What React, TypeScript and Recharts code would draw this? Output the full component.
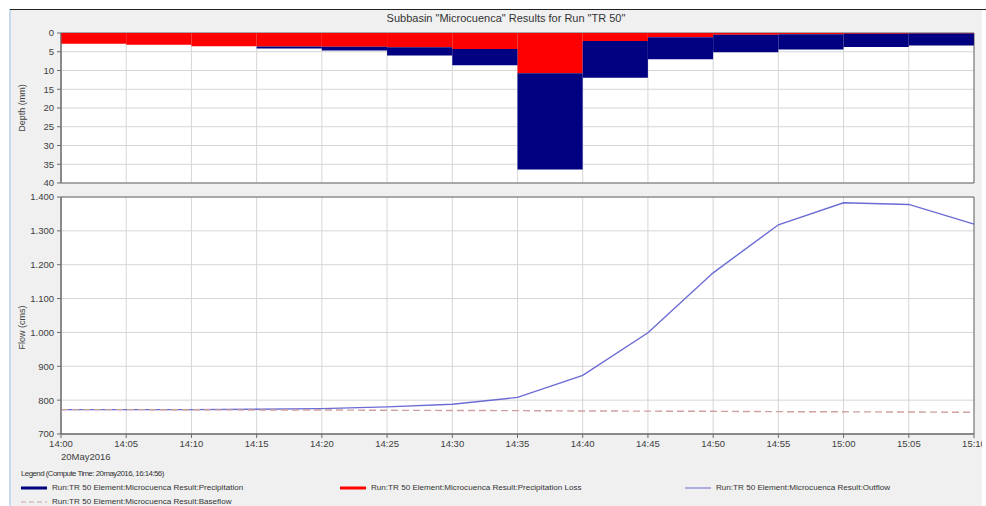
import {
  ComposedChart,
  LineChart,
  Bar,
  Line,
  XAxis,
  YAxis,
  CartesianGrid,
  ReferenceArea,
  Label,
} from "recharts";

// depth bars: one per 5-minute interval, labelled by interval end
const intervalEnds = [
  "14:05", "14:10", "14:15", "14:20", "14:25", "14:30", "14:35",
  "14:40", "14:45", "14:50", "14:55", "15:00", "15:05", "15:10",
];
const precipitation = [2.85, 3.1, 3.55, 4.1, 4.65, 6.0, 8.6, 36.4, 11.9, 7.0, 5.1, 4.4, 3.75, 3.3];
const precipLoss = [2.85, 3.1, 3.55, 3.6, 3.65, 3.8, 4.25, 10.75, 2.15, 1.1, 0.45, 0.3, 0.2, 0.15];

// flow series, one value per time step
const flowTimes = [
  "14:00", "14:05", "14:10", "14:15", "14:20", "14:25", "14:30", "14:35",
  "14:40", "14:45", "14:50", "14:55", "15:00", "15:05", "15:10",
];
const outflow = [772, 772, 772, 773, 775, 780, 788, 808, 873, 999, 1176, 1318, 1383, 1378, 1320];
const baseflow = [772, 772, 771.5, 771, 771, 770, 769.5, 769, 768, 767.5, 767, 766, 765.5, 765, 764];

const timeTicks = flowTimes;
const depthTicks = [0, 5, 10, 15, 20, 25, 30, 35, 40];
const flowTicks = [700, 800, 900, 1000, 1100, 1200, 1300, 1400];

const START = "14:00";
const STEP = 5;

function toMin(t: string) {
  const [h, m] = t.split(":").map(Number);
  const [h0, m0] = START.split(":").map(Number);
  return h * 60 + m - (h0 * 60 + m0);
}

function fromMin(v: number) {
  const [h0, m0] = START.split(":").map(Number);
  const total = h0 * 60 + m0 + v;
  const h = Math.floor(total / 60);
  const m = total % 60;
  return `${h}:${String(m).padStart(2, "0")}`;
}

function fmtFlow(v: number) {
  if (v < 1000) return String(v);
  return `${Math.floor(v / 1000)}.${String(v % 1000).padStart(3, "0")}`;
}

const depthData = intervalEnds.map((t, i) => ({
  mid: toMin(t) - STEP / 2,
  loss: precipLoss[i],
  excess: Math.max(0, precipitation[i] - precipLoss[i]),
}));

const flowData = flowTimes.map((t, i) => ({
  t: toMin(t),
  outflow: outflow[i],
  baseflow: baseflow[i],
}));

const minuteTicks = timeTicks.map(toMin);
const xMax = minuteTicks[minuteTicks.length - 1];

const W = 986;
const M_LEFT = 11;
const Y_W = 50;
const M_RIGHT = 12;
const plotW = W - M_LEFT - Y_W - M_RIGHT;
// a hair under the band so recharts doesn't shrink it to 90%
const barW = (plotW * STEP) / xMax - 0.05;

const FONT = "'Liberation Sans', Arial, sans-serif";
const TEXT = "#404040";
const GRID = "#d6d6d6";
const FRAME = "#6b6b6b";

const axisTitle = (text: string, shift: number) => (props: any) => {
  const vb = props.viewBox || {};
  const cx = (vb.x ?? M_LEFT) + 11;
  const cy = (vb.y ?? 0) + (vb.height ?? 0) / 2 + shift;
  return (
    <text
      x={cx}
      y={cy}
      transform={`rotate(-90 ${cx} ${cy})`}
      textAnchor="middle"
      dominantBaseline="central"
      fontSize={9}
      fill={TEXT}
      fontFamily={FONT}
    >
      {text}
    </text>
  );
};

function TimeTick(props: any) {
  const { x, y, payload } = props;
  return (
    <g>
      <text x={x} y={y} dy="0.71em" textAnchor="middle" fontSize={9.5} fill={TEXT} fontFamily={FONT}>
        {fromMin(payload.value)}
      </text>
      {payload.value === 0 && (
        <text x={x} y={y + 13} dy="0.71em" textAnchor="start" fontSize={9.5} fill={TEXT} fontFamily={FONT}>
          20May2016
        </text>
      )}
    </g>
  );
}

function Swatch({ color, width, dash }: { color: string; width: number; dash?: string }) {
  return (
    <svg width={26} height={6} style={{ position: "absolute", left: -31, top: 1 }}>
      <line x1={0} y1={3} x2={26} y2={3} stroke={color} strokeWidth={width} strokeDasharray={dash} />
    </svg>
  );
}

function LegendItem({ x, y, label, color, width, dash }: any) {
  return (
    <div style={{ position: "absolute", left: x, top: y, fontSize: 8.1, color: "#333", whiteSpace: "nowrap", lineHeight: "8px" }}>
      <Swatch color={color} width={width} dash={dash} />
      {label}
    </div>
  );
}

export default function App() {
  const tickStyle = { fontSize: 9.5, fill: TEXT, fontFamily: FONT };
  return (
    <div style={{ position: "absolute", left: 0, top: 0, width: W, height: 506, background: "#fff", fontFamily: FONT }}>
      <div style={{ position: "absolute", left: 9, top: 9, width: 2, height: 497, background: "#c9dbee" }} />
      <div style={{ position: "absolute", left: 10, top: 9, width: 976, height: 1, background: "#222" }} />
      <div style={{ position: "absolute", left: 11, top: 10, width: 971, height: 496, background: "#f0f0f0", overflow: "hidden" }}>
        <div style={{ position: "absolute", left: -11, top: -10, width: W, height: 506 }}>
          <div style={{ position: "absolute", left: 306, top: 12, width: 400, textAlign: "center", fontSize: 11, color: "#333" }}>
            Subbasin "Microcuenca" Results for Run "TR 50"
          </div>

          <div style={{ position: "absolute", left: 0, top: 0 }}>
            <ComposedChart
              width={W}
              height={190}
              data={depthData}
              margin={{ top: 33, right: M_RIGHT, bottom: 7, left: M_LEFT }}
              barCategoryGap={0}
              barGap={0}
            >
              <CartesianGrid stroke={GRID} fill="#fff" />
              <XAxis type="number" dataKey="mid" domain={[0, xMax]} ticks={minuteTicks} hide />
              <YAxis
                type="number"
                domain={[0, 40]}
                reversed
                ticks={depthTicks}
                interval={0}
                width={Y_W}
                tick={tickStyle}
                tickSize={4}
                tickMargin={3}
                stroke={FRAME}
              >
                <Label content={axisTitle("Depth (mm)", 0)} />
              </YAxis>
              <Bar dataKey="loss" stackId="p" fill="#ff0000" barSize={barW} isAnimationActive={false} />
              <Bar dataKey="excess" stackId="p" fill="#000080" barSize={barW} isAnimationActive={false} />
              <ReferenceArea x1={0} x2={xMax} y1={0} y2={40} fill="none" stroke={FRAME} ifOverflow="visible" />
            </ComposedChart>
          </div>

          <div style={{ position: "absolute", left: 0, top: 190 }}>
            <LineChart
              width={W}
              height={274}
              data={flowData}
              margin={{ top: 7, right: M_RIGHT, bottom: 0, left: M_LEFT }}
            >
              <CartesianGrid stroke={GRID} fill="#fff" />
              <XAxis
                type="number"
                dataKey="t"
                domain={[0, xMax]}
                ticks={minuteTicks}
                interval={0}
                height={30}
                tick={<TimeTick />}
                tickSize={4}
                tickMargin={2}
                stroke={FRAME}
              />
              <YAxis
                type="number"
                domain={[700, 1400]}
                ticks={flowTicks}
                interval={0}
                width={Y_W}
                tick={tickStyle}
                tickFormatter={fmtFlow}
                tickSize={4}
                tickMargin={3}
                stroke={FRAME}
              >
                <Label content={axisTitle("Flow (cms)", 12)} />
              </YAxis>
              <Line
                type="linear"
                dataKey="outflow"
                stroke="#6b6bd6"
                strokeWidth={1.4}
                dot={false}
                isAnimationActive={false}
              />
              <Line
                type="linear"
                dataKey="baseflow"
                stroke="#cfa0a0"
                strokeWidth={1.4}
                strokeDasharray="7 4"
                dot={false}
                isAnimationActive={false}
              />
              <ReferenceArea x1={0} x2={xMax} y1={700} y2={1400} fill="none" stroke={FRAME} ifOverflow="visible" />
            </LineChart>
          </div>

          <div style={{ position: "absolute", left: 21, top: 469, fontSize: 7.9, letterSpacing: -0.55, color: "#333", whiteSpace: "nowrap" }}>
            Legend (Compute Time: 20may2016, 16:14:56)
          </div>
          <LegendItem x={52} y={484} label="Run:TR 50 Element:Microcuenca Result:Precipitation" color="#000080" width={3} />
          <LegendItem x={371} y={484} label="Run:TR 50 Element:Microcuenca Result:Precipitation Loss" color="#ff0000" width={3} />
          <LegendItem x={716} y={484} label="Run:TR 50 Element:Microcuenca Result:Outflow" color="#6b6bd6" width={1} />
          <LegendItem x={52} y={498} label="Run:TR 50 Element:Microcuenca Result:Baseflow" color="#cfa0a0" width={1} dash="5 3" />
        </div>
      </div>
    </div>
  );
}
